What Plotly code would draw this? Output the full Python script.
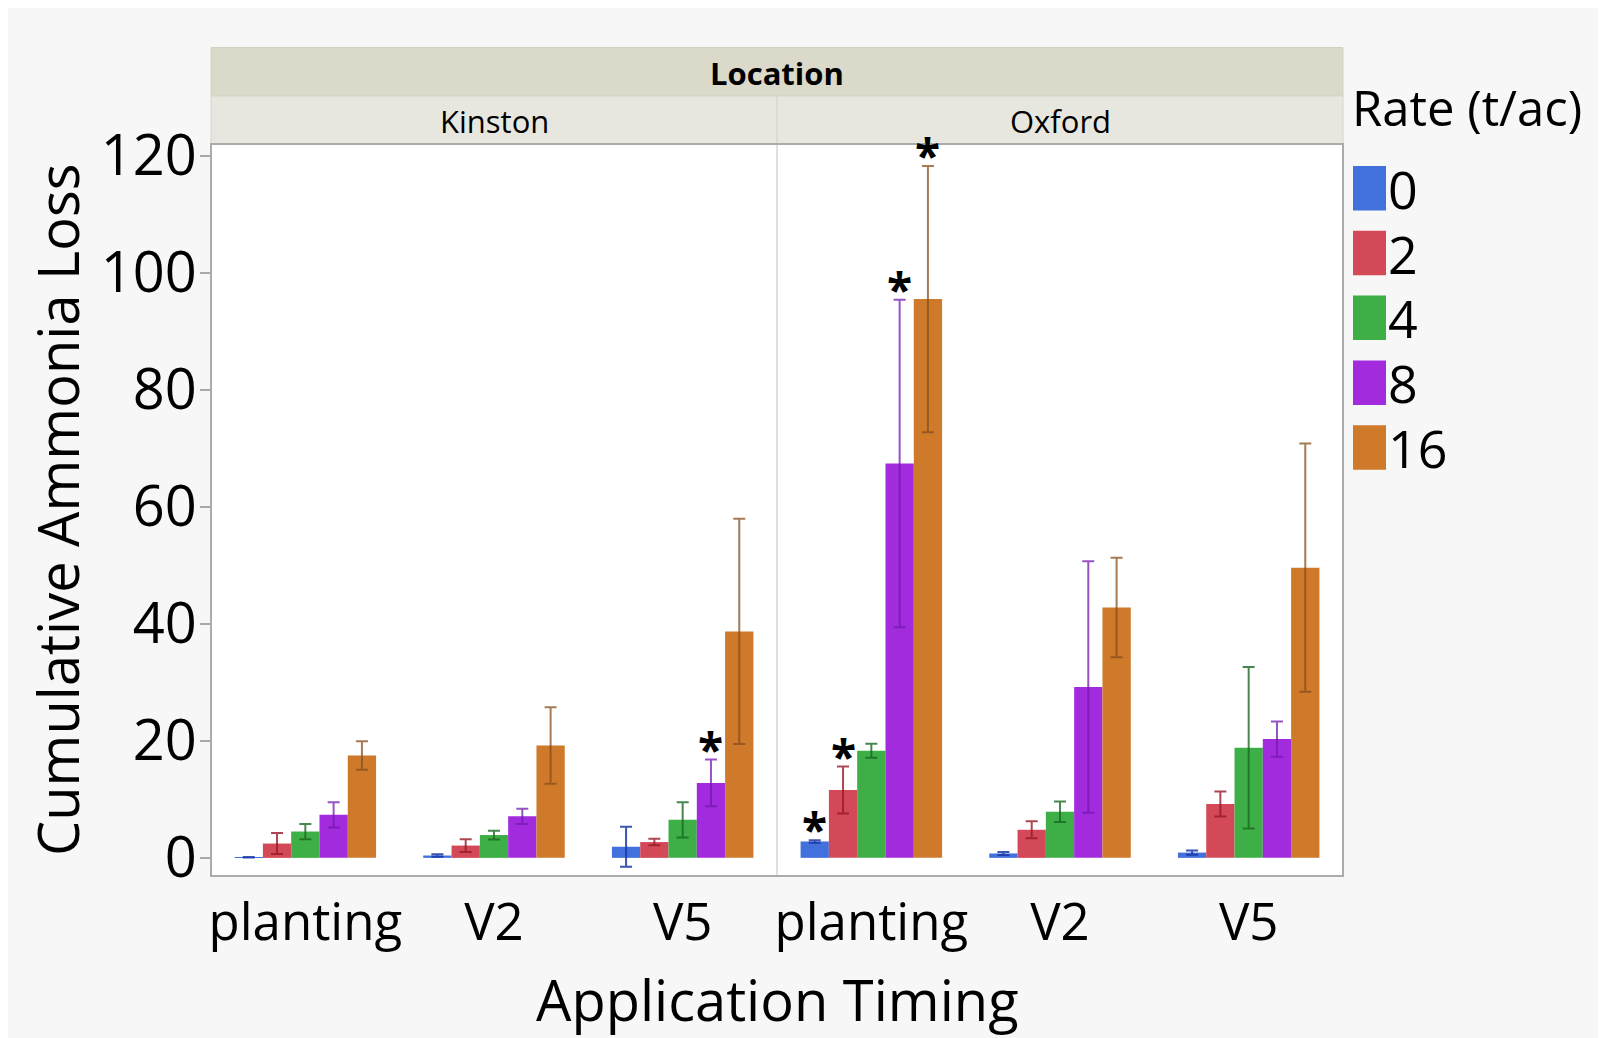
import plotly.graph_objects as go
from plotly.subplots import make_subplots

# ---------------- data ----------------
locations = ["Kinston", "Oxford"]
timings = ["planting", "V2", "V5"]
rates = ["0", "2", "4", "8", "16"]

# order within each list: Kinston planting, V2, V5, Oxford planting, V2, V5
loss_r0 = [0.1, 0.4, 1.9, 2.8, 0.75, 0.9]
loss_r2 = [2.45, 2.1, 2.7, 11.6, 4.8, 9.2]
loss_r4 = [4.5, 3.9, 6.5, 18.3, 7.9, 18.8]
loss_r8 = [7.35, 7.1, 12.8, 67.4, 29.2, 20.3]
loss_r16 = [17.5, 19.2, 38.7, 95.5, 42.8, 49.6]

err_r0 = [0.05, 0.2, 3.4, 0.2, 0.27, 0.35]
err_r2 = [1.8, 1.1, 0.55, 4.0, 1.45, 2.15]
err_r4 = [1.3, 0.75, 3.0, 1.2, 1.75, 13.8]
err_r8 = [2.15, 1.3, 4.0, 28.0, 21.5, 3.0]
err_r16 = [2.45, 6.55, 19.25, 22.75, 8.5, 21.2]

sig_r0 = [False, False, False, True, False, False]
sig_r2 = [False, False, False, True, False, False]
sig_r4 = [False, False, False, False, False, False]
sig_r8 = [False, False, True, True, False, False]
sig_r16 = [False, False, False, True, False, False]

y_ticks = [0, 20, 40, 60, 80, 100, 120]

# ---------------- styles ----------------
bar_colors = ["#4270DD", "#D44958", "#3DAF46", "#A22BDD", "#CE7A2A"]
err_colors = ["rgba(25,55,165,0.85)", "rgba(150,25,40,0.8)", "rgba(25,105,35,0.8)",
              "rgba(115,25,175,0.75)", "rgba(135,78,28,0.75)"]
FONT = "Open Sans"

# page body has an 8px margin; work in reference pixels and subtract it
OFF = 8
W, H = 1606 - OFF, 1038 - OFF
L_PX, R_PX, T_PX, B_PX = 211, 1343, 144, 876   # plot area in reference pixels
ML, MT = L_PX - OFF, T_PX - OFF
MR, MB = 1606 - R_PX, 1038 - B_PX
PW, PH = R_PX - L_PX, B_PX - T_PX


def px2x(px):
    return (px - L_PX) / PW


def py2y(py):
    return (B_PX - py) / PH


losses = [loss_r0, loss_r2, loss_r4, loss_r8, loss_r16]
errs = [err_r0, err_r2, err_r4, err_r8, err_r16]
sigs = [sig_r0, sig_r2, sig_r4, sig_r8, sig_r16]

fig = make_subplots(rows=1, cols=2, shared_yaxes=True, horizontal_spacing=0)

BARGAP = 0.25
n_rates = len(rates)
bar_w = (1 - BARGAP) / n_rates

annotations = []
for k, rate in enumerate(rates):
    for j, loc in enumerate(locations):
        vals = losses[k][j * 3:(j + 1) * 3]
        ev = errs[k][j * 3:(j + 1) * 3]
        sg = sigs[k][j * 3:(j + 1) * 3]
        xs = list(range(len(timings)))
        fig.add_trace(go.Bar(
            x=xs, y=vals, name=rate, offsetgroup=str(k),
            marker=dict(color=bar_colors[k], line=dict(width=0)),
            error_y=dict(type="data", array=ev, color=err_colors[k], thickness=2, width=6),
            showlegend=False,
        ), row=1, col=j + 1)
        for t, (v, e, s) in enumerate(zip(vals, ev, sg)):
            if s:
                annotations.append(dict(
                    x=t + (k - (n_rates - 1) / 2) * bar_w,
                    y=v + e, xref="x" if j == 0 else "x2", yref="y",
                    text="<b>*</b>", showarrow=False, xanchor="center", yanchor="middle", yshift=11,
                    font=dict(family=FONT, size=46, color="black"),
                ))

fig.update_layout(barmode="group", bargap=BARGAP, bargroupgap=0)

fig.update_xaxes(range=[-0.5, 2.5], tickvals=list(range(len(timings))), ticktext=timings,
                 tickfont=dict(family=FONT, size=51, color="black"), ticklabelstandoff=12,
                 showgrid=False, zeroline=False, showline=False, ticks="")
fig.update_yaxes(range=[-3.1, 122], showgrid=False, zeroline=False, showline=False)
fig.update_yaxes(tickvals=y_ticks, ticks="outside", ticklen=10, tickwidth=2, tickcolor="#a8a8a8",
                 tickfont=dict(family=FONT, size=56, color="black"), ticklabelstandoff=-8,
                 row=1, col=1)
fig.update_yaxes(showticklabels=False, ticks="", row=1, col=2)

shapes = [
    # header bands
    dict(type="rect", xref="paper", yref="paper", x0=0, x1=1, y0=py2y(96), y1=py2y(47.5),
         fillcolor="#dbd9ca", line=dict(color="#d3d1c4", width=1), layer="below"),
    dict(type="rect", xref="paper", yref="paper", x0=0, x1=0.5, y0=1, y1=py2y(96),
         fillcolor="#e8e7df", line=dict(color="#d6d4ca", width=1), layer="below"),
    dict(type="rect", xref="paper", yref="paper", x0=0.5, x1=1, y0=1, y1=py2y(96),
         fillcolor="#e8e7df", line=dict(color="#d6d4ca", width=1), layer="below"),
    # panel divider and border
    dict(type="line", xref="paper", yref="paper", x0=0.5, x1=0.5, y0=0, y1=1,
         line=dict(color="#d4d4d4", width=1.5)),
    dict(type="rect", xref="paper", yref="paper", x0=0, x1=1, y0=0, y1=1,
         line=dict(color="#ababab", width=2)),
]

# header labels
annotations.append(dict(x=0.5, y=py2y(73), xref="paper", yref="paper", text="<b>Location</b>",
                        showarrow=False, font=dict(family=FONT, size=31, color="black"),
                        xanchor="center", yanchor="middle"))
for j, loc in enumerate(locations):
    annotations.append(dict(x=0.25 + 0.5 * j, y=py2y(121), xref="paper", yref="paper", text=loc,
                            showarrow=False, font=dict(family=FONT, size=31, color="black"),
                            xanchor="center", yanchor="middle"))

# axis titles
annotations.append(dict(x=0.5, y=py2y(999), xref="paper", yref="paper", text="Application Timing",
                        showarrow=False, font=dict(family=FONT, size=56, color="black"),
                        xanchor="center", yanchor="middle"))
annotations.append(dict(x=px2x(57), y=0.5, xref="paper", yref="paper", text="Cumulative Ammonia Loss",
                        textangle=-90, showarrow=False, font=dict(family=FONT, size=56, color="black"),
                        xanchor="center", yanchor="middle"))

# legend (manual)
annotations.append(dict(x=px2x(1350), y=py2y(107), xref="paper", yref="paper", text="Rate (t/ac)",
                        showarrow=False, xanchor="left", yanchor="middle",
                        font=dict(family=FONT, size=49, color="black")))
leg_top, leg_step, sw_h = 166, 64.8, 44.5
for k, rate in enumerate(rates):
    yc = leg_top + sw_h / 2 + k * leg_step
    shapes.append(dict(type="rect", xref="paper", yref="paper", x0=px2x(1353), x1=px2x(1386),
                       y0=py2y(yc + sw_h / 2), y1=py2y(yc - sw_h / 2),
                       fillcolor=bar_colors[k], line=dict(width=0)))
    annotations.append(dict(x=px2x(1387), y=py2y(yc), xref="paper", yref="paper", text=rate,
                            showarrow=False, xanchor="left", yanchor="middle",
                            borderpad=0,
                            font=dict(family=FONT, size=52, color="black")))

fig.update_layout(
    width=W, height=H,
    margin=dict(l=ML, r=MR, t=MT, b=MB, autoexpand=False),
    paper_bgcolor="#f7f7f7", plot_bgcolor="white",
    font=dict(family=FONT, color="black"),
    shapes=shapes, annotations=annotations,
)

fig.write_html("out.html", config=dict(displayModeBar=False))
